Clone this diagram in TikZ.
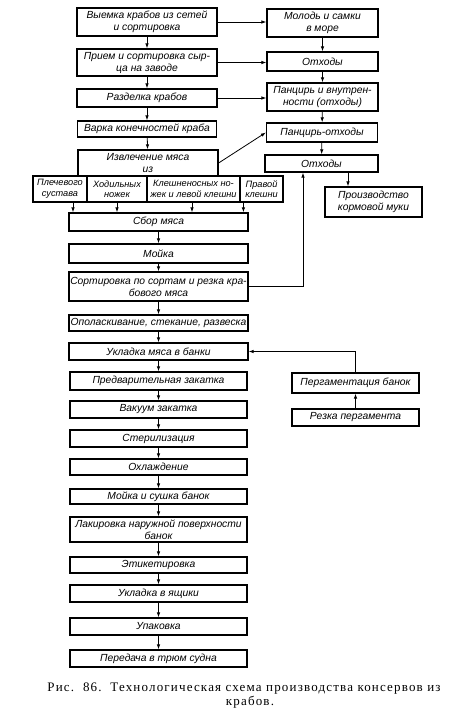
\documentclass[tikz,border=0pt]{standalone}
\usepackage{fontspec}
\setmainfont{Liberation Serif}
\newfontfamily\boxfont{Liberation Sans}
\newfontfamily\captfont[LetterSpace=9]{Liberation Serif}
\usetikzlibrary{arrows.meta}
\begin{document}
\begin{tikzpicture}[x=1pt,y=-1pt,
  box/.style={draw, line width=1.2pt, inner sep=0pt, align=center,
    font=\boxfont\itshape\fontsize{10.3}{12}\selectfont},
  subbox/.style={box, font=\boxfont\itshape\fontsize{9.2}{10.5}\selectfont},
  conn/.style={line width=0.8pt, -{Latex[length=5pt,width=3.5pt]}},
  capt/.style={inner sep=0pt, font=\captfont\fontsize{13}{15}\selectfont}]
\useasboundingbox (0,0) rectangle (450,711);
% left column
\node[box, minimum width=140pt, minimum height=28pt] (b1) at (147,22) {Выемка крабов из сетей\\и сортировка};
\node[box, minimum width=140pt, minimum height=27pt] (b2) at (147,62.5) {Прием и сортировка сыр-\\ца на заводе};
\node[box, minimum width=140pt, minimum height=18pt] (b3) at (147,98) {Разделка крабов};
\node[box, minimum width=139pt, minimum height=16pt] (b4) at (147,129) {Варка конечностей краба};
\node[box, minimum width=140pt, minimum height=26pt] (b5) at (148,163) {Извлечение мяса\\из};
\node[subbox, minimum width=54pt, minimum height=26pt] (s1) at (60,189) {Плечевого\\сустава};
\node[subbox, minimum width=60pt, minimum height=26pt] (s2) at (117,189) {Ходильных\\ножек};
\node[subbox, minimum width=93pt, minimum height=26pt] (s3) at (193.5,189) {Клешненосных но-\\жек и левой клешни};
\node[subbox, minimum width=43pt, minimum height=26pt] (s4) at (261.5,189) {Правой\\клешни};
\node[box, minimum width=179pt, minimum height=18pt] (b6) at (158.5,222) {Сбор мяса};
\node[box, minimum width=179pt, minimum height=19pt] (b7) at (158.5,253.5) {Мойка};
\node[box, minimum width=179pt, minimum height=29pt] (b8) at (158.5,286.5) {Сортировка по сортам и резка кра-\\бового мяса};
\node[box, minimum width=179pt, minimum height=16pt] (b9) at (158.5,323) {Ополаскивание, стекание, развеска};
\node[box, minimum width=179pt, minimum height=17pt] (b10) at (158.5,351.5) {Укладка мяса в банки};
\node[box, minimum width=177pt, minimum height=18pt] (b11) at (158.5,381) {Предварительная закатка};
\node[box, minimum width=177pt, minimum height=17pt] (b12) at (158.5,409.5) {Вакуум закатка};
\node[box, minimum width=177pt, minimum height=17pt] (b13) at (158.5,438.5) {Стерилизация};
\node[box, minimum width=177pt, minimum height=16pt] (b14) at (158.5,467) {Охлаждение};
\node[box, minimum width=177pt, minimum height=15pt] (b15) at (158.5,496.5) {Мойка и сушка банок};
\node[box, minimum width=177pt, minimum height=25pt] (b16) at (158.5,529.5) {Лакировка наружной поверхности\\банок};
\node[box, minimum width=177pt, minimum height=16pt] (b17) at (158.5,565) {Этикетировка};
\node[box, minimum width=177pt, minimum height=17pt] (b18) at (158.5,593.5) {Укладка в ящики};
\node[box, minimum width=177pt, minimum height=17pt] (b19) at (158.5,626.5) {Упаковка};
\node[box, minimum width=177pt, minimum height=17pt] (b20) at (158.5,658.5) {Передача в трюм судна};
% right column
\node[box, minimum width=111pt, minimum height=28pt] (r1) at (322.5,23) {Молодь и самки\\в море};
\node[box, minimum width=111pt, minimum height=19pt] (r2) at (322.5,61.5) {Отходы};
\node[box, minimum width=111pt, minimum height=28pt] (r3) at (322.5,97) {Панцирь и внутрен-\\ности (отходы)};
\node[box, minimum width=111pt, minimum height=19pt] (r4) at (322,132.5) {Панцирь-отходы};
\node[box, minimum width=113pt, minimum height=17pt] (r5) at (321.5,163.5) {Отходы};
\node[box, minimum width=97pt, minimum height=30pt] (r6) at (373.5,202) {Производство\\кормовой муки};
\node[box, minimum width=127pt, minimum height=20pt] (p1) at (355.5,383) {Пергаментация банок};
\node[box, minimum width=127pt, minimum height=17pt] (p2) at (355.5,417.5) {Резка пергамента};
% caption
\node[capt] (cap1) at (244,689) {Рис.~~86.~~Технологическая схема производства консервов из};
\node[capt] (cap2) at (250,702.5) {крабов.};
% connectors: main chain
\draw[conn] (b1) -- (b2);
\draw[conn] (b2) -- (b3);
\draw[conn] (b3) -- (b4);
\draw[conn] (b4) -- (b5);
\draw[conn] ([xshift=13pt]s1.south) -- ([xshift=13pt]s1.south |- b6.north);
\draw[conn] (s2.south) -- (s2.south |- b6.north);
\draw[conn] ([xshift=-1.5pt]s3.south) -- ([xshift=-1.5pt]s3.south |- b6.north);
\draw[conn] ([xshift=4pt]s4.south west) -- ([xshift=4pt]s4.south west |- b6.north);
\draw[conn] (b6) -- (b7);
\draw[conn] (b7) -- (b8);
\draw[conn] (b8) -- (b9);
\draw[conn] (b9) -- (b10);
\draw[conn] (b10) -- (b11);
\draw[conn] (b11) -- (b12);
\draw[conn] (b12) -- (b13);
\draw[conn] (b13) -- (b14);
\draw[conn] (b14) -- (b15);
\draw[conn] (b15) -- (b16);
\draw[conn] (b16) -- (b17);
\draw[conn] (b17) -- (b18);
\draw[conn] (b18) -- (b19);
\draw[conn] (b19) -- (b20);
% to right column
\draw[conn] (b1.east) -- (b1.east -| r1.west);
\draw[conn] (b2.east) -- (b2.east -| r2.west);
\draw[conn] (b3.east) -- (b3.east -| r3.west);
\draw[conn] (b5.east) -- (r4.west);
\draw[conn] (r1) -- (r2);
\draw[conn] (r2) -- (r3);
\draw[conn] (r3) -- (r4);
\draw[conn] (r4) -- (r5);
\draw[conn] ([xshift=-25.5pt]r6.north |- r5.south) -- ([xshift=-25.5pt]r6.north);
\draw[conn] (b8.east) -| ([xshift=-18.5pt]r5.south);
\draw[conn] (p1.north) |- (b10.east);
\draw[conn] (p2) -- (p1);
\end{tikzpicture}
\end{document}
